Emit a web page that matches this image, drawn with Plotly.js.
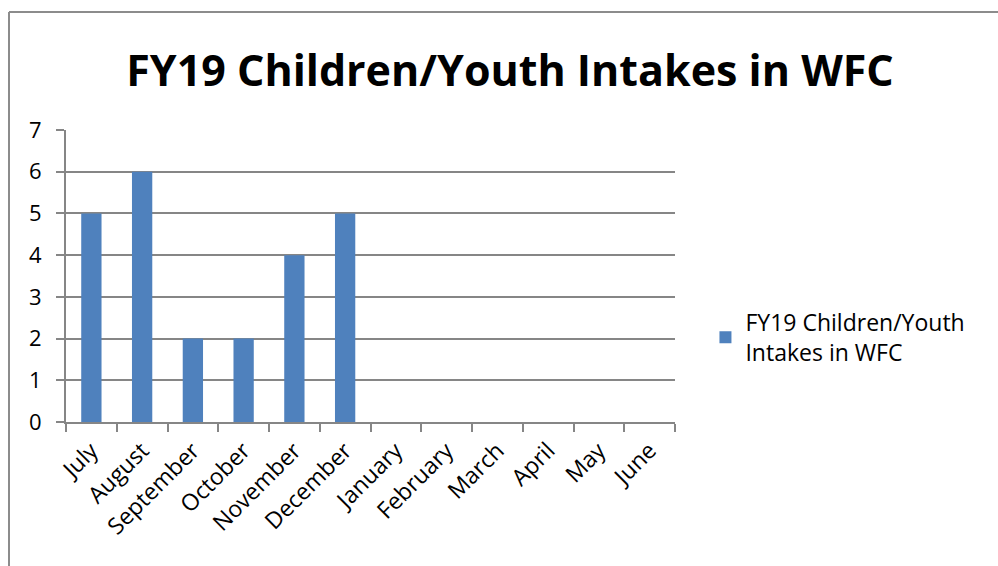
<!DOCTYPE html>
<html><head><meta charset="utf-8">
<script src="https://cdn.plot.ly/plotly-3.0.1.min.js"></script>
<style>body{margin:0;background:#fff}#chart{width:998px;height:566px}</style>
</head><body><div id="chart"></div>
<script>
const months = ["July","August","September","October","November","December","January","February","March","April","May","June"];
const intakes = [5,6,2,2,4,5,null,null,null,null,null,null];
const seriesName = "FY19 Children/Youth<br>Intakes in WFC";
const yTicks = [0,1,2,3,4,5,6,7];

const font = "Open Sans, Calibri, sans-serif";
Plotly.newPlot("chart", [{
  type: "bar", x: months, y: intakes, name: seriesName,
  marker: {color: "#4f81bd"}, showlegend: true
}], {
  width: 998, height: 566,
  margin: {l: 66, r: 323, t: 130, b: 144},
  paper_bgcolor: "#fff", plot_bgcolor: "#fff",
  bargap: 0.6,
  title: {text: "<b>FY19 Children/Youth Intakes in WFC</b>", font: {family: font, size: 43, color: "#000"}, x: 0.511, xanchor: "center", y: 0.875, yanchor: "middle"},
  xaxis: {type: "category", tickangle: -45, tickfont: {family: font, size: 23, color: "#000"},
    showline: true, linecolor: "#868686", linewidth: 2, ticks: "outside", tickson: "boundaries", ticklen: 8, tickcolor: "#868686", tickwidth: 2, showgrid: false, ticklabelstandoff: 4},
  yaxis: {range: [0, 7], tickvals: yTicks, tickfont: {family: font, size: 22, color: "#000"},
    showline: true, linecolor: "#868686", linewidth: 2, ticks: "outside", ticklen: 8, tickcolor: "#868686", tickwidth: 2,
    showgrid: true, gridcolor: "#868686", gridwidth: 2, zeroline: false, ticklabelstandoff: 10},
  legend: {x: 1.05, y: 0.29, xanchor: "left", yanchor: "middle", font: {family: font, size: 23, color: "#000"}, itemwidth: 30},
  shapes: [
    {type: "line", xref: "paper", yref: "paper", x0: -0.0936, x1: -0.0936, y0: 1.404, y1: -0.6, line: {width: 2, color: "#8c8c8c"}},
    {type: "line", xref: "paper", yref: "paper", x0: -0.0936, x1: 1.6, y0: 1.404, y1: 1.404, line: {width: 2, color: "#8c8c8c"}}
  ]
}, {staticPlot: true});
</script></body></html>
